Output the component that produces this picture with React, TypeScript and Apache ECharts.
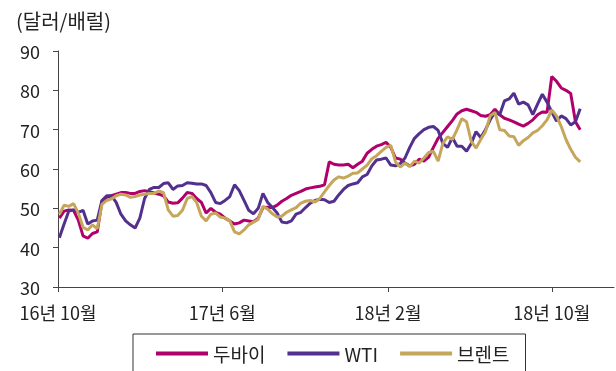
import React, { useEffect, useRef } from "react";
import * as echarts from "echarts";

// Weekly observation dates (Mondays)
const weeks: string[] = [
  "2016-10-03", "2016-10-10", "2016-10-17", "2016-10-24", "2016-10-31",
  "2016-11-07", "2016-11-14", "2016-11-21", "2016-11-28",
  "2016-12-05", "2016-12-12", "2016-12-19", "2016-12-26",
  "2017-01-02", "2017-01-09", "2017-01-16", "2017-01-23", "2017-01-30",
  "2017-02-06", "2017-02-13", "2017-02-20", "2017-02-27",
  "2017-03-06", "2017-03-13", "2017-03-20", "2017-03-27",
  "2017-04-03", "2017-04-10", "2017-04-17", "2017-04-24",
  "2017-05-01", "2017-05-08", "2017-05-15", "2017-05-22", "2017-05-29",
  "2017-06-05", "2017-06-12", "2017-06-19", "2017-06-26",
  "2017-07-03", "2017-07-10", "2017-07-17", "2017-07-24", "2017-07-31",
  "2017-08-07", "2017-08-14", "2017-08-21", "2017-08-28",
  "2017-09-04", "2017-09-11", "2017-09-18", "2017-09-25",
  "2017-10-02", "2017-10-09", "2017-10-16", "2017-10-23", "2017-10-30",
  "2017-11-06", "2017-11-13", "2017-11-20", "2017-11-27",
  "2017-12-04", "2017-12-11", "2017-12-18", "2017-12-25",
  "2018-01-01", "2018-01-08", "2018-01-15", "2018-01-22", "2018-01-29",
  "2018-02-05", "2018-02-12", "2018-02-19", "2018-02-26",
  "2018-03-05", "2018-03-12", "2018-03-19", "2018-03-26",
  "2018-04-02", "2018-04-09", "2018-04-16", "2018-04-23", "2018-04-30",
  "2018-05-07", "2018-05-14", "2018-05-21", "2018-05-28",
  "2018-06-04", "2018-06-11", "2018-06-18", "2018-06-25",
  "2018-07-02", "2018-07-09", "2018-07-16", "2018-07-23", "2018-07-30",
  "2018-08-06", "2018-08-13", "2018-08-20", "2018-08-27",
  "2018-09-03", "2018-09-10", "2018-09-17", "2018-09-24",
  "2018-10-01", "2018-10-08", "2018-10-15", "2018-10-22", "2018-10-29",
  "2018-11-05", "2018-11-12",
];

// Prices, USD per barrel
const dubai: number[] = [
  47.5, 49.3, 49.6, 49.5, 47.0, 43.0, 42.4, 43.6, 44.0, 51.8,
  52.8, 53.2, 53.6, 54.0, 54.0, 53.8, 53.8, 54.3, 54.5, 54.2,
  53.9, 53.6, 53.2, 51.6, 51.3, 51.4, 52.6, 54.0, 53.8, 52.5,
  51.5, 48.8, 50.0, 49.0, 48.5, 47.5, 46.8, 46.0, 46.3, 47.0,
  46.8, 46.6, 47.5, 50.2, 50.3, 50.2, 50.8, 51.8, 52.5, 53.3,
  53.8, 54.3, 54.9, 55.2, 55.4, 55.6, 56.0, 61.8, 61.2, 61.0,
  61.0, 61.2, 60.3, 61.2, 62.0, 64.0, 65.0, 65.8, 66.2, 66.8,
  65.5, 62.8, 62.5, 61.5, 60.8, 61.2, 62.5, 62.0, 63.0, 65.5,
  67.8, 69.3, 70.8, 72.3, 74.0, 74.8, 75.2, 74.8, 74.4, 73.6,
  73.4, 73.8, 75.2, 73.8, 72.9, 72.5, 72.0, 71.4, 70.9, 71.6,
  72.5, 73.8, 74.5, 74.4, 83.5, 82.3, 80.6, 80.0, 79.2, 72.0,
  70.0,
];

const wti: number[] = [
  42.5, 46.0, 49.3, 49.6, 49.0, 49.5, 46.0, 46.8, 47.0, 52.0,
  53.2, 53.2, 51.5, 48.5, 46.8, 45.8, 45.0, 47.5, 52.5, 54.8,
  55.3, 55.3, 56.3, 56.5, 54.8, 55.7, 55.8, 56.5, 56.4, 56.2,
  56.2, 55.8, 54.0, 51.5, 51.2, 52.0, 53.0, 56.0, 54.5, 52.0,
  49.5, 48.6, 50.0, 53.8, 51.5, 50.2, 48.8, 46.5, 46.3, 46.8,
  48.5, 49.0, 50.2, 51.3, 52.0, 52.3, 52.2, 51.5, 51.8, 53.4,
  54.8, 55.8, 56.2, 56.5, 58.0, 58.6, 60.8, 62.3, 62.5, 62.8,
  61.0, 60.8, 61.4, 62.8, 65.5, 67.8, 69.0, 70.0, 70.6, 70.8,
  69.8, 66.5, 65.5, 68.0, 65.8, 65.8, 64.5, 66.5, 69.5, 68.0,
  70.0, 72.5, 74.5, 73.8, 77.3, 77.8, 79.3, 76.5, 77.0, 76.3,
  73.8, 76.5, 79.0, 77.0, 74.5, 72.2, 73.5, 72.8, 71.2, 72.0,
  75.3,
];

const brent: number[] = [
  48.5, 50.8, 50.5, 51.2, 48.8, 45.2, 44.5, 45.8, 44.8, 51.0,
  52.0, 52.4, 53.2, 53.6, 53.4, 52.8, 53.0, 53.4, 53.6, 53.8,
  53.8, 54.4, 54.0, 49.6, 48.0, 48.2, 49.5, 52.5, 53.0, 51.5,
  48.0, 46.8, 48.5, 48.8, 47.8, 47.5, 46.8, 44.0, 43.5, 44.5,
  45.8, 46.5, 47.2, 50.5, 49.8, 48.6, 47.8, 48.0, 49.0, 49.6,
  50.2, 51.3, 51.8, 52.0, 51.6, 52.5, 54.2, 55.8, 57.2, 58.0,
  57.7, 58.2, 58.9, 59.0, 60.0, 61.0, 62.6, 63.4, 64.5, 65.5,
  66.0, 61.8, 60.5, 61.5, 60.6, 62.0, 61.5, 62.8, 64.2, 64.5,
  62.0, 66.5, 68.2, 67.5, 70.0, 72.8, 72.0, 67.0, 65.3, 67.5,
  69.5, 73.5, 74.4, 70.0, 69.8, 68.4, 68.2, 66.0, 67.2, 68.0,
  69.2, 69.8, 71.0, 72.5, 75.0, 73.5, 70.8, 67.5, 65.0, 63.0,
  61.8,
];

const seriesNames = ["두바이", "WTI", "브렌트"];
const seriesColors = ["#b0006b", "#52308e", "#c6a65b"];

// Labelled months on the date axis
const tickMonths: [number, number][] = [
  [2016, 10],
  [2017, 6],
  [2018, 2],
  [2018, 10],
];
const tickLabels = ["16년 10월", "17년 6월", "18년 2월", "18년 10월"];

const axisStart: [number, number] = [2016, 10];
const axisEnd: [number, number] = [2019, 1];

const FONT = "'Noto Sans CJK KR', 'Noto Sans', sans-serif";

const monthTs = ([y, m]: [number, number]) => Date.UTC(y, m - 1, 1);
const dayTs = (s: string) => {
  const [y, m, d] = s.split("-").map(Number);
  return Date.UTC(y, m - 1, d);
};

export default function App() {
  const ref = useRef<HTMLDivElement>(null);

  useEffect(() => {
    if (!ref.current) return;
    const chart = echarts.init(ref.current, undefined, { renderer: "svg" });
    const tickValues = tickMonths.map(monthTs);
    const seriesData = [dubai, wti, brent];

    chart.setOption({
      animation: false,
      textStyle: { fontFamily: FONT },
      title: {
        text: "(달러/배럴)",
        left: 11,
        top: 5,
        textStyle: {
          fontFamily: FONT,
          fontSize: 20,
          fontWeight: "normal",
          color: "#222",
        },
      },
      grid: { left: 58, right: 2, top: 51, bottom: 84 },
      legend: {
        data: seriesNames,
        left: 133,
        top: 334,
        orient: "horizontal",
        icon: "rect",
        itemWidth: 52,
        itemHeight: 4,
        itemGap: 22,
        padding: [10, 16, 40, 23],
        borderColor: "#333",
        borderWidth: 1,
        textStyle: { fontFamily: FONT, fontSize: 19, color: "#222" },
      },
      xAxis: {
        type: "value",
        min: monthTs(axisStart),
        max: monthTs(axisEnd),
        splitLine: { show: false },
        axisLine: { onZero: false, lineStyle: { color: "#444", width: 1 } },
        axisTick: {
          show: true,
          length: 5,
          customValues: tickValues,
          lineStyle: { color: "#444" },
        },
        axisLabel: {
          customValues: tickValues,
          margin: 16,
          fontFamily: FONT,
          fontSize: 18,
          lineHeight: 18,
          color: "#222",
          formatter: (v: number) => {
            const i = tickValues.indexOf(v);
            return i >= 0 ? tickLabels[i] : "";
          },
        },
      },
      yAxis: {
        type: "value",
        min: 30,
        max: 90,
        interval: 10,
        splitLine: { show: false },
        axisLine: { show: true, lineStyle: { color: "#444", width: 1 } },
        axisTick: { show: true, length: 5, lineStyle: { color: "#444" } },
        axisLabel: {
          margin: 18,
          fontFamily: FONT,
          fontSize: 18,
          lineHeight: 18,
          color: "#222",
        },
      },
      series: seriesNames.map((name, s) => ({
        name,
        type: "line",
        showSymbol: false,
        symbol: "none",
        color: seriesColors[s],
        lineStyle: { width: 3, color: seriesColors[s] },
        data: weeks.map((d, i) => [dayTs(d), seriesData[s][i]]),
      })),
    });

    return () => chart.dispose();
  }, []);

  return (
    <div
      ref={ref}
      style={{ position: "fixed", left: 0, top: 0, width: 616, height: 371 }}
    />
  );
}
